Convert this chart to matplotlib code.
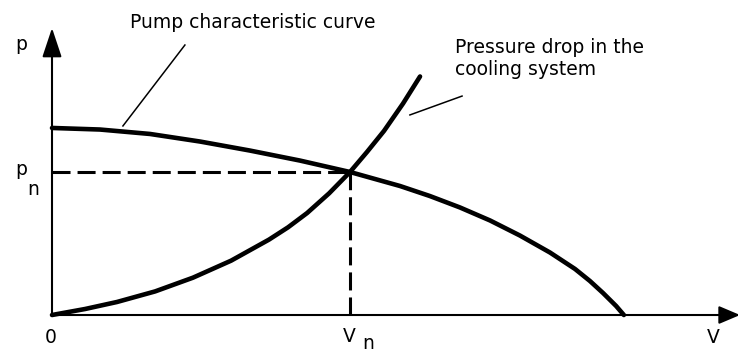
import numpy as np
import matplotlib
matplotlib.use('Agg')
from matplotlib import pyplot as plt

## DATA (V in units of Vn, p in units of pn)
# pump characteristic curve
PUMP_V = [0.000, 0.161, 0.329, 0.497, 0.664, 0.832, 1.000, 1.168, 1.268,
          1.369, 1.470, 1.570, 1.671, 1.755, 1.805, 1.849, 1.893, 1.919]
PUMP_P = [1.308, 1.297, 1.266, 1.213, 1.150, 1.080, 1.000, 0.902, 0.832,
          0.752, 0.661, 0.556, 0.437, 0.322, 0.238, 0.154, 0.063, 0.000]
# pressure drop in the cooling system
DROP_V = [0.000, 0.111, 0.218, 0.346, 0.473, 0.601, 0.728, 0.792, 0.856,
          0.930, 1.000, 1.057, 1.114, 1.178, 1.235]
DROP_P = [0.000, 0.042, 0.091, 0.165, 0.261, 0.380, 0.527, 0.613, 0.713,
          0.851, 1.000, 1.140, 1.287, 1.479, 1.668]
# operating point
V_N = 1.0
P_N = 1.0

PUMP_LABEL = 'Pump characteristic curve'
DROP_LABEL = 'Pressure drop in the\ncooling system'

FS = 13.5

fig = plt.figure(figsize=(7.38, 3.52), dpi=100)
ax = fig.add_axes([0, 0, 1, 1])
ax.set_xlim(-0.1745, 2.302)
ax.set_ylim(-0.2587, 2.2028)
ax.axis('off')

# axes with arrow heads
arrow_y = dict(arrowstyle='-|>,head_length=1.8,head_width=0.6', mutation_scale=10,
               lw=1.5, color='black', shrinkA=0, shrinkB=0)
ax.annotate('', xy=(0, 2.007), xytext=(0, 0), arrowprops=arrow_y,
            annotation_clip=False)
arrow_x = dict(arrowstyle='-|>,head_length=1.3,head_width=0.55', mutation_scale=10,
               lw=1.5, color='black', shrinkA=0, shrinkB=0)
ax.annotate('', xy=(2.309, 0), xytext=(0, 0), arrowprops=arrow_x,
            annotation_clip=False)

# dashed guides to the operating point
ax.plot([0, V_N], [P_N, P_N], color='black', lw=2.2, ls=(0, (5.9, 2.3)))
ax.plot([V_N, V_N], [0, P_N], color='black', lw=2.2, ls=(0, (5.9, 2.3)))

# the two curves
ax.plot(PUMP_V, PUMP_P, color='black', lw=3.3, solid_capstyle='round',
        solid_joinstyle='round')
ax.plot(DROP_V, DROP_P, color='black', lw=3.3, solid_capstyle='round',
        solid_joinstyle='round')

# leader lines and labels
ax.plot([0.446, 0.238], [1.888, 1.322], color='black', lw=1.1)
ax.plot([1.201, 1.376], [1.399, 1.531], color='black', lw=1.1)
ax.text(0.262, 2.007, PUMP_LABEL, fontsize=FS, va='baseline', ha='left')
for i, line in enumerate(DROP_LABEL.split('\n')):
    ax.text(1.352, 1.832 - i * 0.154, line, fontsize=FS, va='baseline', ha='left')

# axis labels
ax.text(-0.124, 1.853, 'p', fontsize=FS, va='baseline')
ax.text(-0.124, 0.976, 'p', fontsize=FS, va='baseline')
ax.text(-0.084, 0.839, 'n', fontsize=FS, va='baseline')
ax.text(-0.003, -0.196, '0', fontsize=FS, va='baseline', ha='center')
ax.text(0.977, -0.189, 'V', fontsize=FS, va='baseline')
ax.text(1.040, -0.236, 'n', fontsize=FS, va='baseline')
ax.text(2.198, -0.196, 'V', fontsize=FS, va='baseline')

fig.savefig('out.png', dpi=100)
